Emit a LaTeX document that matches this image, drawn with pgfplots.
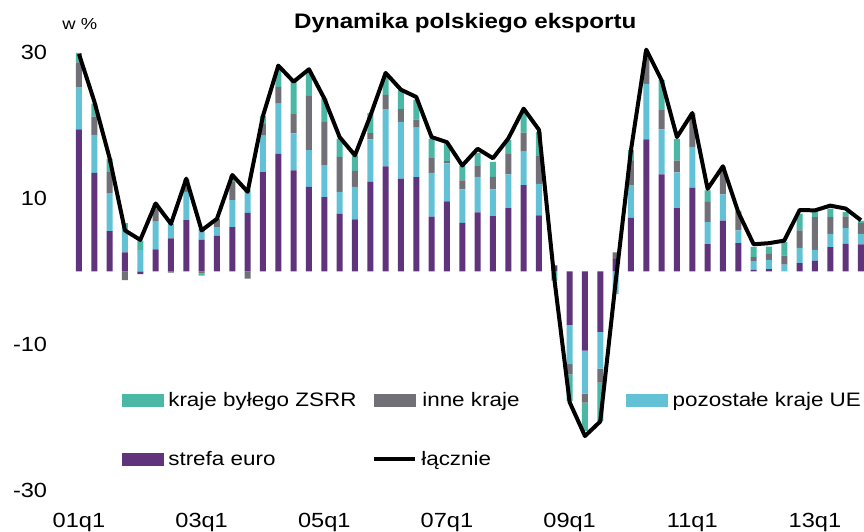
\documentclass[border=0pt]{standalone}
\usepackage{fontspec}
\setmainfont{Liberation Sans}[FakeStretch=1.15]
\usepackage{pgfplots}
\pgfplotsset{compat=1.18}
\usepackage{pgfplotstable}
\definecolor{cZSRR}{HTML}{4BB8A6}
\definecolor{cInne}{HTML}{707076}
\definecolor{cUE}{HTML}{63C1D6}
\definecolor{cEuro}{HTML}{60337D}

\pgfplotstableread{
x P B G T
0 19.45 5.8 3.4 1.3
1 13.5 5.2 2.5 1.8
2 5.5 5.2 2.9 1.8
3 2.6 3.2 0 0.8
4 0 2.9 0 1.3
5 3.0 3.8 1.8 0.7
6 4.5 2.0 0 0
7 7.0 3.9 0.7 1.0
8 4.3 1.5 0 0
9 4.9 1.15 1.15 0
10 6.05 3.7 2.5 0.9
11 8.0 2.9 0 0.3
12 13.6 5.0 1.6 1.1
13 16.1 6.9 2.3 2.4
14 13.85 5.05 2.75 4.35
15 11.56 5.04 7.44 3.6
16 10.18 4.36 5.96 3.2
17 7.9 2.97 4.83 2.5
18 7.1 4.46 2.2 2.14
19 12.25 5.85 0.85 2.75
20 14.4 7.85 1.95 2.5
21 12.7 7.8 1.75 2.6
22 12.9 6.8 1.1 2.75
23 7.5 6.0 2.0 2.7
24 9.6 5.2 0.3 2.4
25 6.65 4.59 1.24 1.93
26 8.07 4.87 1.47 1.83
27 7.57 3.67 1.7 2.06
28 8.67 4.63 2.85 1.85
29 11.8 4.6 2.6 2.7
30 7.66 4.34 3.8 3.3
31 0.8 0 0 0
32 0 0 0 0
33 0 0 0 0
34 0 0 0 0
35 1.7 0 0.9 0
36 7.34 4.46 3.34 1.46
37 18.07 7.63 4.0 0.6
38 13.3 6.15 2.75 4.0
39 8.67 4.9 1.6 3.0
40 11.47 5.6 4.1 0.5
41 3.72 3.02 2.76 1.6
42 6.93 3.62 3.5 0.3
43 3.85 1.75 2.5 0.2
44 0.2 1.2 0.55 1.4
45 0.3 1.25 0.84 1.0
46 0 0.92 1.24 1.84
47 1.1 2.1 2.4 2.3
48 1.47 1.47 4.5 0.7
49 3.3 1.84 2.3 1.15
50 3.76 2.16 1.6 0.6
51 3.67 1.47 1.47 0.3
}\posdata

\pgfplotstableread{
x P B G T
3 0 0 -1.2 0
4 -0.4 0 0 0
6 0 0 -0.2 0
8 0 0 -0.3 -0.3
11 0 0 -1.0 0
31 0 0 0 -1.3
32 -7.34 -5.41 -1.38 -3.67
33 -10.9 -5.87 -1.24 -3.9
34 -8.3 -5.05 -1.93 -5.28
35 0 -3.1 0 0
}\negdata

\pgfplotstableread{
x L
0 29.8
1 23.3
2 15.5
3 5.6
4 4.3
5 9.3
6 6.5
7 12.7
8 5.6
9 7.2
10 13.2
11 10.9
12 21.3
13 28.2
14 26.0
15 27.7
16 23.7
17 18.4
18 15.9
19 21.3
20 27.2
21 24.9
22 23.9
23 18.4
24 17.7
25 14.5
26 16.8
27 15.5
28 18.2
29 22.3
30 19.4
31 -1.0
32 -17.95
33 -22.6
34 -20.6
35 -1.5
36 16.6
37 30.4
38 26.2
39 18.4
40 21.7
41 11.3
42 14.4
43 8.1
44 3.7
45 3.85
46 4.2
47 8.4
48 8.35
49 9.0
50 8.6
51 7.0
}\totdata

\pgfplotsset{base/.style={scale only axis, width=792.7pt, height=437.5pt,
  xmin=-0.5, xmax=51.2, ymin=-30, ymax=30}}

\begin{document}
\begin{tikzpicture}
\path[use as bounding box] (-71.3pt,-41pt) rectangle (792.7pt,490pt);
% negative parts
\begin{axis}[base, hide axis, ybar stacked, bar width=6pt]
\addplot[fill=cEuro, draw=none] table[x=x,y=P]{\negdata};
\addplot[fill=cUE, draw=none] table[x=x,y=B]{\negdata};
\addplot[fill=cInne, draw=none] table[x=x,y=G]{\negdata};
\addplot[fill=cZSRR, draw=none] table[x=x,y=T]{\negdata};
\end{axis}
% positive parts
\begin{axis}[base, hide axis, ybar stacked, bar width=6pt]
\addplot[fill=cEuro, draw=none] table[x=x,y=P]{\posdata};
\addplot[fill=cUE, draw=none] table[x=x,y=B]{\posdata};
\addplot[fill=cInne, draw=none] table[x=x,y=G]{\posdata};
\addplot[fill=cZSRR, draw=none] table[x=x,y=T]{\posdata};
\end{axis}
% total line, ticks, legend
\begin{axis}[base, clip=false,
  axis line style={draw=none}, major tick length=0pt,
  xtick={0,8,16,24,32,40,48},
  xticklabels={01q1,03q1,05q1,07q1,09q1,11q1,13q1},
  ytick={-30,-10,10,30},
  yticklabels={-30,-10,10,30},
  xticklabel style={anchor=north, inner sep=0pt, yshift=-23pt, font=\fontsize{20.5}{24}\selectfont},
  yticklabel style={anchor=east, inner sep=0pt, xshift=-24pt, font=\fontsize{20.5}{24}\selectfont},
  legend columns=3,
  legend cell align=left,
  legend style={at={(0.0636,0.2229)}, anchor=north west, draw=none, fill=none,
    inner sep=0pt, column sep=0pt, row sep=43pt,
    font=\fontsize{19.5}{22}\selectfont, nodes={inner sep=0pt}},
]
\addlegendimage{legend image code/.code={\fill[cZSRR] (0pt,-6pt) rectangle (41pt,6pt);}}
\addlegendentry{\makebox[209pt][l]{\hspace{5pt}kraje byłego ZSRR}}
\addlegendimage{legend image code/.code={\fill[cInne] (0pt,-6pt) rectangle (41pt,6pt);}}
\addlegendentry{\makebox[209pt][l]{\hspace{5pt}inne kraje}}
\addlegendimage{legend image code/.code={\fill[cUE] (0pt,-6pt) rectangle (41pt,6pt);}}
\addlegendentry{\makebox[209pt][l]{\hspace{5pt}pozostałe kraje UE}}
\addlegendimage{legend image code/.code={\fill[cEuro] (0pt,-6pt) rectangle (41pt,6pt);}}
\addlegendentry{\makebox[209pt][l]{\hspace{5pt}strefa euro}}
\addplot[black, line width=4pt, line join=round,
  legend image code/.code={\draw[black, line width=4pt] (0pt,0pt) -- (41pt,0pt);}]
  table[x=x,y=L]{\totdata};
\addlegendentry{\makebox[209pt][l]{\hspace{4pt}łącznie}}
\node[anchor=base, font=\bfseries\fontsize{21}{25}\selectfont, yshift=24.5pt]
  at (axis description cs:0.497,1) {Dynamika polskiego eksportu};
\node[anchor=base, font=\fontsize{16}{19}\selectfont, xshift=8.5pt, yshift=23.5pt]
  at (axis description cs:0,1) {w \%};
\end{axis}
\end{tikzpicture}
\end{document}
